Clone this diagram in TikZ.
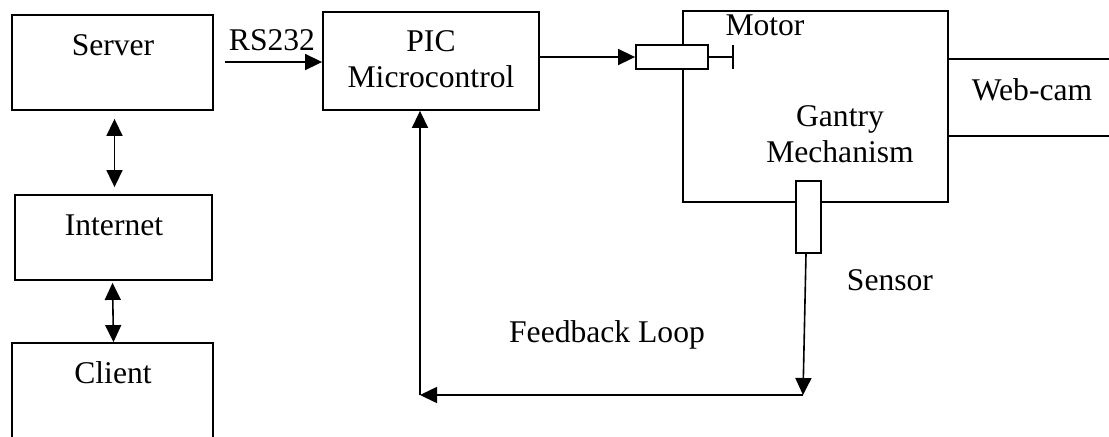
\documentclass[tikz,border=0pt]{standalone}
\usepackage{fontspec}
\setmainfont{Liberation Serif}
\usetikzlibrary{arrows.meta}

\newcommand{\blockfont}{\fontsize{15.8pt}{17.75pt}\selectfont}

\begin{document}
\begin{tikzpicture}[x=0.5pt,y=-0.5pt,
    block/.style={draw, line width=0.9pt, inner sep=0pt},
    part/.style={block, fill=white},
    txt/.style={font=\blockfont, anchor=base, inner sep=0pt},
    arr/.style={line width=0.8pt, -{Triangle[length=8.5pt,width=8pt]}},
    dblarr/.style={line width=0.8pt, {Triangle[length=8.5pt,width=8pt]}-{Triangle[length=8.5pt,width=8pt]}}]

   \useasboundingbox (0,0) rectangle (1109,436);
   \clip (0,0) rectangle (1109,436);

   % left column: server, internet, client
   \node[block, minimum width=100.5pt, minimum height=47.5pt] (server) at (112.5,62.5) {};
   \node[block, minimum width=98.5pt, minimum height=42.5pt] (internet) at (113.5,237.5) {};
   \node[block, minimum width=100.5pt, minimum height=68.5pt] (client) at (112.5,411.5) {};
   \node[txt] (servertxt) at (113,55) {Server};
   \node[txt] (internettxt) at (114,235) {Internet};
   \node[txt] (clienttxt) at (113,383) {Client};

   \draw[dblarr] ([xshift=1pt,yshift=-4pt]server.south) -- ([xshift=0.5pt,yshift=3.5pt]internet.north);
   \draw[dblarr] ([xshift=-0.5pt,yshift=-1pt]internet.south) -- ([xshift=0.5pt]client.north);

   % controller
   \node[block, minimum width=108pt, minimum height=49pt] (pic) at (431,61) {};
   % base of a two-line node sits on its last line
   \node[txt, align=center] (pictxt) at (431,87) {PIC\\Microcontrol};
   \coordinate (rsin) at (225,62);
   \node[txt] (rstxt) at (272,50) {RS232};
   \draw[arr] (rsin) -- (rsin -| pic.west);

   % gantry with motor, sensor and camera
   \node[block, minimum width=132.5pt, minimum height=95.5pt] (gantry) at (815.5,106.5) {};
   \node[block, minimum width=96pt, minimum height=38.5pt] (webcam) at (1044,97.5) {};
   \node[txt, align=center, font=\fontsize{15.8pt}{18pt}\selectfont] (gantrytxt) at (840,162) {Gantry\\Mechanism};
   \node[txt] (webcamtxt) at (1032,100) {Web-cam};

   \node[part, minimum width=36pt, minimum height=12pt] (motor) at (672,57) {};
   \coordinate (shaft) at (733,57);
   \draw[line width=0.8pt] (motor.east) -- (shaft);
   \draw[line width=0.8pt] ([yshift=6pt]shaft) -- ([yshift=-6pt]shaft);
   \node[txt] (motortxt) at (765,35) {Motor};
   \draw[arr] (pic.east |- motor.west) -- (motor.west);

   \node[part, minimum width=12.5pt, minimum height=36pt] (sensor) at (808.5,217) {};
   \node[txt] (sensortxt) at (890,290) {Sensor};

   % feedback loop back into the controller
   \coordinate (fbr) at (803,395);
   \coordinate (fbl) at (420,395);
   \draw[arr] ([xshift=-1.25pt]sensor.south) -- (fbr);
   \draw[arr] (fbr) -- (fbl);
   \draw[arr] (fbl) -- (fbl |- pic.south);
   \node[txt] (fbtxt) at (607,342) {Feedback Loop};

\end{tikzpicture}
\end{document}
